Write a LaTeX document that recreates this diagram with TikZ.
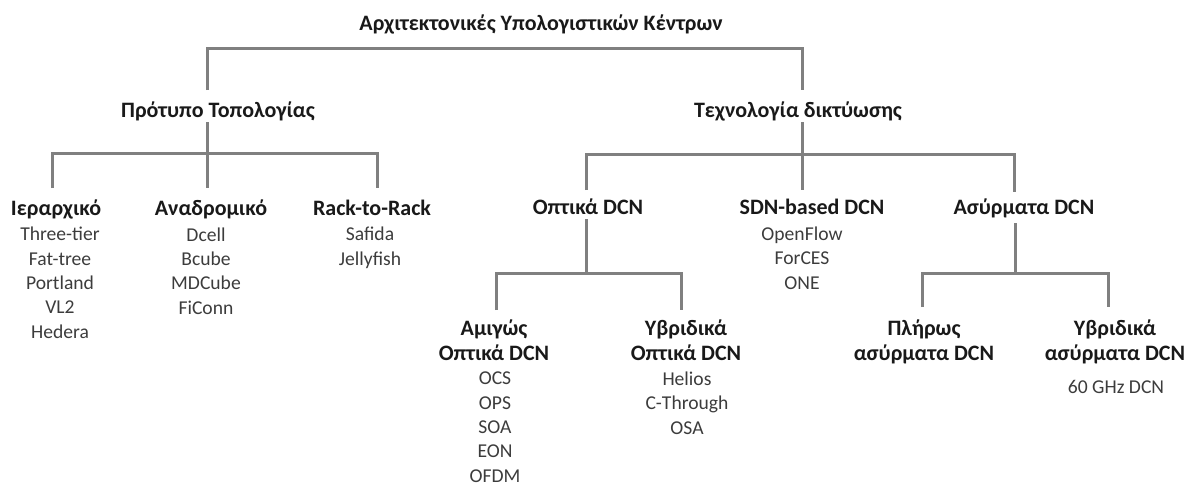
\documentclass[tikz,border=0pt]{standalone}
\usepackage{fontspec}
\setmainfont{Carlito}
\usepackage{xcolor}
\usepackage{tikz}
\usetikzlibrary{calc}

\definecolor{linegray}{RGB}{128,128,128}
\definecolor{leafgray}{RGB}{60,60,60}
\definecolor{headblack}{RGB}{25,25,25}

\tikzset{
	branch/.style={draw=linegray,line width=1.5pt},
	head/.style={font=\fontsize{11}{12.5}\selectfont\bfseries,text=headblack,align=center,inner sep=0pt,anchor=base},
	leaf/.style={font=\fontsize{9.8}{12.15}\selectfont,text=leafgray,align=center,inner sep=0pt,anchor=base}
}

\begin{document}
\begin{tikzpicture}[x=0.5pt,y=-0.5pt]
			\useasboundingbox (0,0) rectangle (1195,484);
			
			% headings (base = last line)
			\node[head] (title) at (541,30) {Αρχιτεκτονικές Υπολογιστικών Κέντρων};
			\node[head] (topo) at (218,117) {Πρότυπο Τοπολογίας};
			\node[head] (tech) at (798,117) {Τεχνολογία δικτύωσης};
			
			\node[head] (hier) at (56,215) {Ιεραρχικό};
			\node[head] (recur) at (211,215) {Αναδρομικό};
			\node[head] (rack) at (372,215) {Rack-to-Rack};
			\node[head] (opt) at (588,214) {Οπτικά DCN};
			\node[head] (sdn) at (812,214) {SDN-based DCN};
			\node[head] (wls) at (1024,214) {Ασύρματα DCN};
			
			\node[head] (pure) at (494,360) {Αμιγώς\\Οπτικά DCN};
			\node[head] (hybo) at (686,360) {Υβριδικά\\Οπτικά DCN};
			\node[head] (fullw) at (924,360) {Πλήρως\\ασύρματα DCN};
			\node[head] (hybw) at (1115,360) {Υβριδικά\\ασύρματα DCN};
			
			% examples
			\node[leaf] (hierL) at (60,338) {Three-tier\\Fat-tree\\Portland\\VL2\\Hedera};
			\node[leaf] (recurL) at (206,314) {Dcell\\Bcube\\MDCube\\FiConn};
			\node[leaf] (rackL) at (370,265) {Safida\\Jellyfish};
			\node[leaf] (sdnL) at (802,289) {OpenFlow\\ForCES\\ONE};
			\node[leaf] (pureL) at (495,482) {OCS\\OPS\\SOA\\EON\\OFDM};
			\node[leaf] (hyboL) at (687,434) {Helios\\C-Through\\OSA};
			\node[leaf] (hybwL) at (1116,393) {60 GHz DCN};
			
			% line ends
			\coordinate (topo-in) at (207,90);
			\coordinate (tech-in) at (802,90);
			\coordinate (topo-out) at (207,122);
			\coordinate (tech-out) at (802,122);
			\coordinate (hier-in) at (52,188);
			\coordinate (recur-in) at (207,188);
			\coordinate (rack-in) at (377,188);
			\coordinate (opt-in) at (586,190);
			\coordinate (sdn-in) at (802,190);
			\coordinate (wls-in) at (1014,192);
			\coordinate (opt-out) at (586,219);
			\coordinate (wls-out) at (1015,223);
			\coordinate (pure-in) at (496,310);
			\coordinate (hybo-in) at (681,310);
			\coordinate (fullw-in) at (922,307);
			\coordinate (hybw-in) at (1108,307);
			
			\draw[branch] (topo-in) -- ++(0,-42) -| (tech-in);
			
			\draw[branch] (topo-out) -- ++(0,31) coordinate (topo-j);
			\draw[branch] (hier-in) |- (topo-j) -| (rack-in);
			\draw[branch] (topo-j) -- (recur-in);
			
			\draw[branch] (tech-out) -- ++(0,32) coordinate (tech-j);
			\draw[branch] (opt-in) |- (tech-j) -| (wls-in);
			\draw[branch] (tech-j) -- (sdn-in);
			
			\draw[branch] (opt-out) -- ++(0,54) coordinate (opt-j);
			\draw[branch] (pure-in) |- (opt-j) -| (hybo-in);
			
			\draw[branch] (wls-out) -- ++(0,50) coordinate (wls-j);
			\draw[branch] (fullw-in) |- (wls-j) -| (hybw-in);
		\end{tikzpicture}
\end{document}
